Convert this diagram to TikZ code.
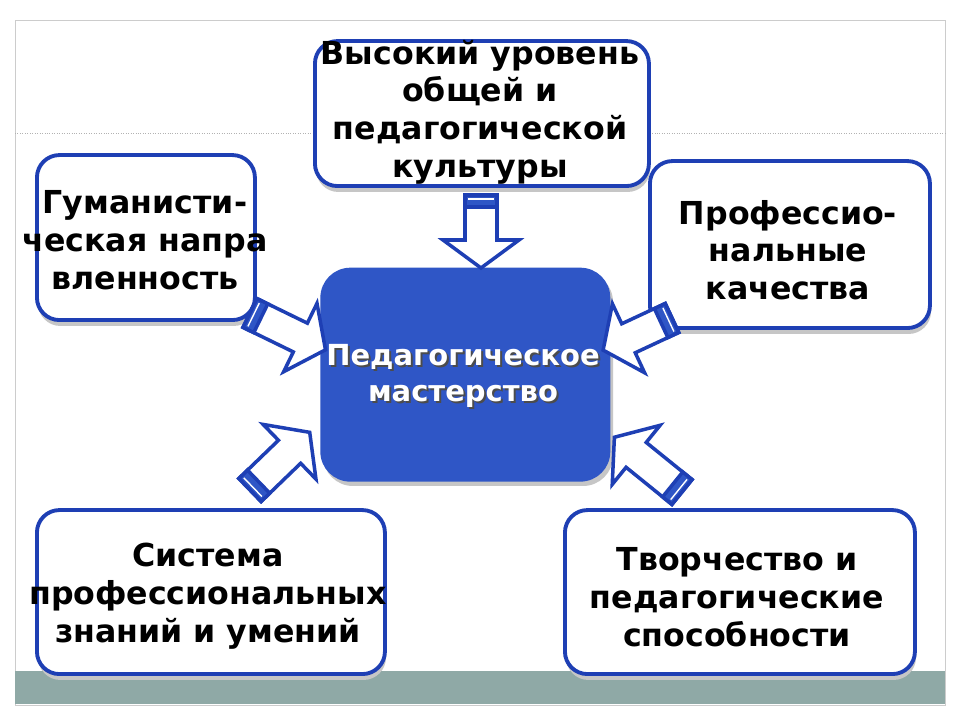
\documentclass[tikz,border=0pt]{standalone}
\usepackage{fontspec}
\setmainfont{DejaVu Sans}
\begin{document}
\begin{tikzpicture}[x=0.02cm,y=0.02cm,
  box/.style={draw=bblue,line width=2.2pt,rounded corners=0.45cm,fill=white},
  lbl/.style={font=\bfseries\fontsize{18}{21.5}\selectfont,align=center,text=black},
  clbl/.style={font=\bfseries\fontsize{16.5}{21}\selectfont,align=center},
  arr/.style={draw=bblue,line width=2pt,fill=white,line join=miter}]
\definecolor{bblue}{HTML}{1E3FB4}
\definecolor{cblue}{HTML}{2F56C6}
\definecolor{bar}{HTML}{8FA9A6}
\useasboundingbox (0,0) rectangle (960,720);
\fill[white] (0,0) rectangle (960,720);
\draw[gray!40] (15,15) rectangle (945,700);
\draw[gray!60,densely dotted] (15,587) -- (945,587);
\fill[bar] (15,16) rectangle (945,49);
\newcommand\barrow[3]{\begin{scope}[shift={(#1)},rotate=#2]
 \path[arr] (0,-16) -- (#3-28,-16) -- (#3-28,-38) -- (#3,0) -- (#3-28,38) -- (#3-28,16) -- (0,16) -- cycle;
 \path[arr,fill=cblue] (0,-16) rectangle (12,16);
 \draw[white,line width=0.8pt] (4,-13) -- (4,13);
\end{scope}}
% boxes
\foreach \n/\a/\b/\c/\d in {t/313/532/647/677, l/35/398/253/563, r/648/390/928/557, bl/35/44/383/208, br/563/44/913/208}{
  \fill[gray!45,rounded corners=0.45cm] (\a+3,\b-4) rectangle (\c+3,\d-4);
  \node[box,minimum width={(\c-\a)*0.02cm},minimum height={(\d-\b)*0.02cm},anchor=south west] (\n) at (\a,\b) {};
}
\fill[gray!45,rounded corners=0.6cm] (323,234) rectangle (613,448);
\node[fill=cblue,rounded corners=0.6cm,minimum width=5.8cm,minimum height=4.28cm,anchor=south west,inner sep=0] (c) at (320,238) {};
% arrows
\barrow{481,525}{-90}{73}
\barrow{250,407}{-26}{84}
\barrow{672,402}{205}{76}
\barrow{250,230}{44}{83}
\barrow{682,228}{141}{87}
% texts
\node[lbl] (tt) at (480,608) {Высокий уровень\\общей и\\педагогической\\культуры};
\node[lbl] (lt) at (145,480) {Гуманисти-\\ческая напра\\вленность};
\node[lbl] (rt) at (788,470) {Профессио-\\нальные\\качества};
\node[lbl] (blt) at (208,124) {Система\\профессиональных\\знаний и умений};
\node[lbl] (brt) at (737,123) {Творчество и\\педагогические\\способности};
\node[clbl,text=black!70] at (465,342) {Педагогическое\\мастерство};
\node[clbl,text=white] (ct) at (463,344) {Педагогическое\\мастерство};
\end{tikzpicture}
\end{document}
